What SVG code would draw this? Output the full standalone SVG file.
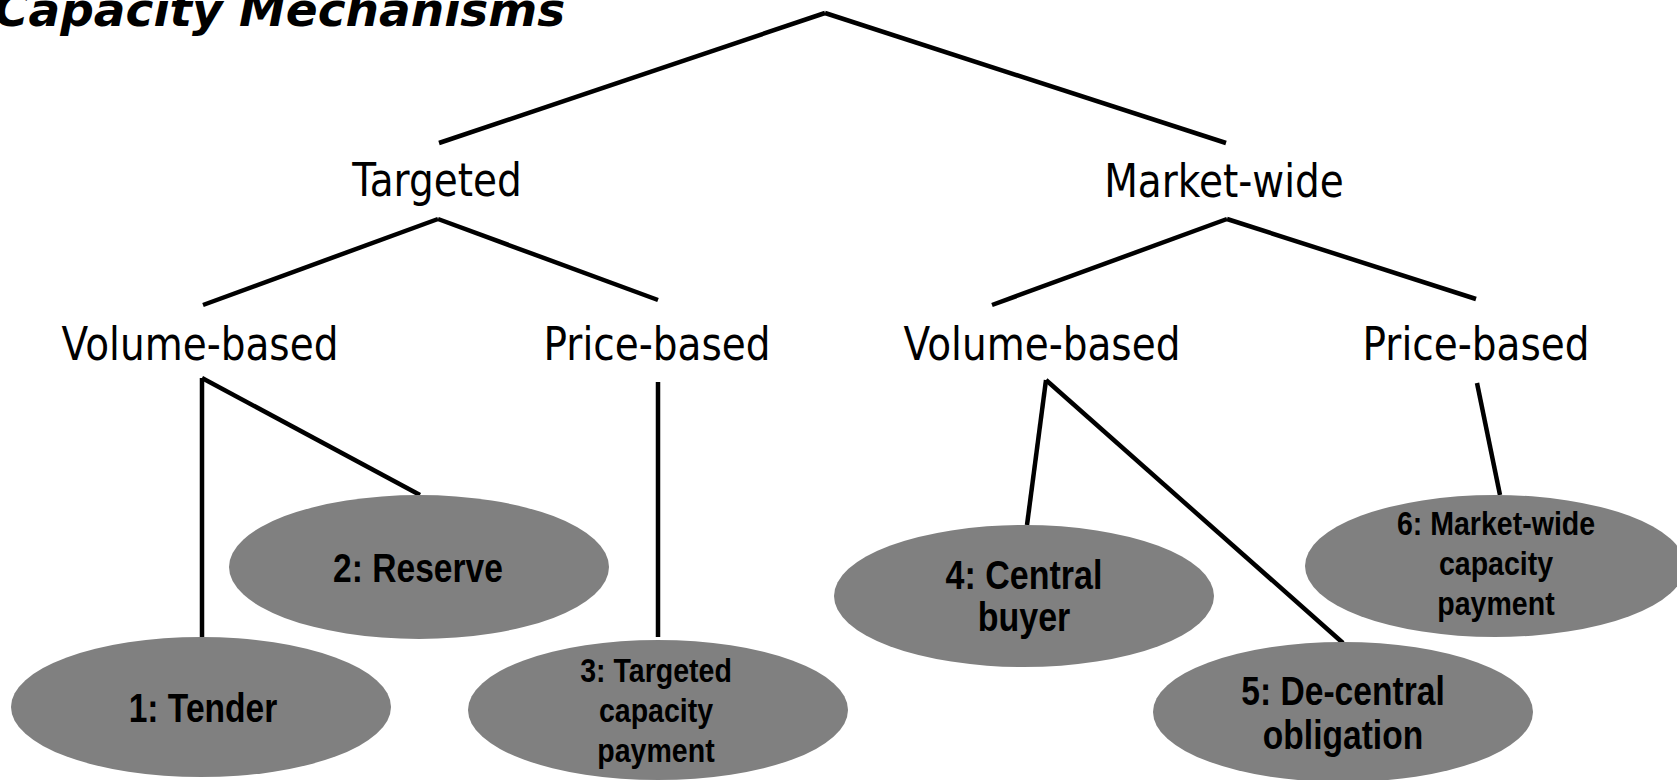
<svg xmlns="http://www.w3.org/2000/svg" width="1677" height="780" viewBox="0 0 1677 780">
<style>
.title{font-family:"DejaVu Sans",Verdana,sans-serif;font-weight:bold;font-style:italic;font-size:47px;fill:#000}
.lvl{font-family:"DejaVu Sans",Verdana,sans-serif;font-size:47px;fill:#000;text-anchor:middle}
.ell{fill:#808080;stroke:none}
.lbl{font-family:"Liberation Sans",Arial,sans-serif;font-weight:bold;fill:#000;text-anchor:middle}
.big{font-size:40px}
.small{font-size:34px}
.conn line{stroke:#000;stroke-width:4.5;stroke-linecap:butt}
</style>
<rect width="1677" height="780" fill="#fff"/>
<text class="title" x="-6" y="26">Capacity Mechanisms</text>

<g id="connectors" class="conn">
<line x1="825" y1="13" x2="439" y2="143"/>
<line x1="825" y1="13" x2="1226" y2="143"/>
<line x1="438" y1="219" x2="203" y2="305"/>
<line x1="438" y1="219" x2="658" y2="300"/>
<line x1="1227" y1="219" x2="992" y2="305"/>
<line x1="1227" y1="219" x2="1476" y2="299"/>
<line x1="202" y1="378" x2="202" y2="637"/>
<line x1="202" y1="378" x2="420" y2="495"/>
<line x1="658" y1="382" x2="658" y2="637"/>
<line x1="1046" y1="380" x2="1027" y2="525"/>
<line x1="1046" y1="380" x2="1343" y2="643"/>
<line x1="1477" y1="383" x2="1500" y2="495"/>
</g>

<g id="targeted"><text class="lvl" transform="translate(437,196) scale(0.83,1)">Targeted</text></g>
<g id="market-wide"><text class="lvl" transform="translate(1224,197) scale(0.83,1)">Market-wide</text></g>
<g id="t-volume"><text class="lvl" transform="translate(200,360) scale(0.83,1)">Volume-based</text></g>
<g id="t-price"><text class="lvl" transform="translate(657,360) scale(0.83,1)">Price-based</text></g>
<g id="m-volume"><text class="lvl" transform="translate(1042,360) scale(0.83,1)">Volume-based</text></g>
<g id="m-price"><text class="lvl" transform="translate(1476,360) scale(0.83,1)">Price-based</text></g>

<g id="n1">
<ellipse class="ell" cx="201" cy="707" rx="190" ry="70"/>
<text class="lbl big" transform="translate(203,722) scale(0.84,1)">1: Tender</text>
</g>
<g id="n2">
<ellipse class="ell" cx="419" cy="567" rx="190" ry="72"/>
<text class="lbl big" transform="translate(418,582) scale(0.84,1)">2: Reserve</text>
</g>
<g id="n3">
<ellipse class="ell" cx="658" cy="710" rx="190" ry="70"/>
<text class="lbl small" transform="translate(656,682) scale(0.84,1)">3: Targeted</text>
<text class="lbl small" transform="translate(656,722) scale(0.84,1)">capacity</text>
<text class="lbl small" transform="translate(656,762) scale(0.84,1)">payment</text>
</g>
<g id="n4">
<ellipse class="ell" cx="1024" cy="596" rx="190" ry="71"/>
<text class="lbl big" transform="translate(1024,589) scale(0.85,1)">4: Central</text>
<text class="lbl big" transform="translate(1024,631) scale(0.85,1)">buyer</text>
</g>
<g id="n5">
<ellipse class="ell" cx="1343" cy="712" rx="190" ry="70"/>
<text class="lbl big" transform="translate(1343,705) scale(0.84,1)">5: De-central</text>
<text class="lbl big" transform="translate(1343,749) scale(0.84,1)">obligation</text>
</g>
<g id="n6">
<ellipse class="ell" cx="1495" cy="566" rx="190" ry="71"/>
<text class="lbl small" transform="translate(1496,535) scale(0.84,1)">6: Market-wide</text>
<text class="lbl small" transform="translate(1496,575) scale(0.84,1)">capacity</text>
<text class="lbl small" transform="translate(1496,615) scale(0.84,1)">payment</text>
</g>
</svg>
